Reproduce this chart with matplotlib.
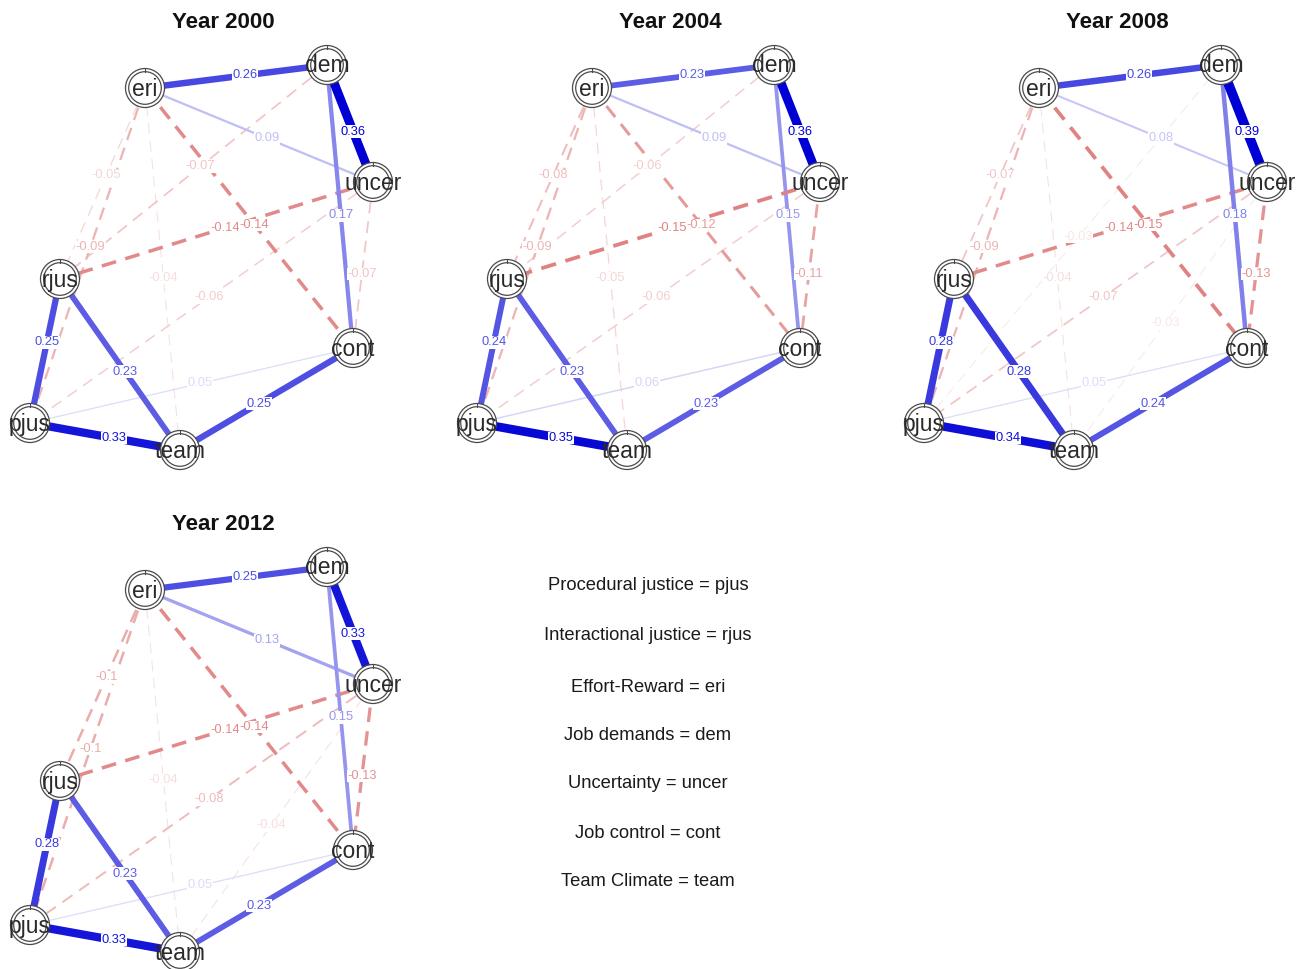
import matplotlib
matplotlib.use("Agg")
import matplotlib.pyplot as plt
from matplotlib.patches import Circle
import numpy as np

plt.rcParams["font.family"] = ["Liberation Sans", "DejaVu Sans"]
plt.rcParams["lines.scale_dashes"] = False

# ---- data -------------------------------------------------------------
nodes = ["pjus", "rjus", "eri", "dem", "uncer", "cont", "team"]
years = [2000, 2004, 2008, 2012]

edge_pairs = [
    ("eri", "dem"), ("dem", "uncer"), ("eri", "uncer"), ("dem", "cont"),
    ("eri", "rjus"), ("eri", "pjus"), ("dem", "rjus"), ("dem", "pjus"),
    ("uncer", "rjus"), ("eri", "cont"), ("eri", "team"), ("uncer", "pjus"),
    ("uncer", "team"), ("uncer", "cont"), ("rjus", "pjus"), ("rjus", "team"),
    ("pjus", "team"), ("team", "cont"), ("pjus", "cont"),
]

w2000 = [0.26, 0.36, 0.09, 0.17, -0.05, -0.09, -0.07, 0.0, -0.14, -0.14,
         -0.04, -0.06, 0.0, -0.07, 0.25, 0.23, 0.33, 0.25, 0.05]
w2004 = [0.23, 0.36, 0.09, 0.15, -0.08, -0.09, -0.06, 0.0, -0.15, -0.12,
         -0.05, -0.06, 0.0, -0.11, 0.24, 0.23, 0.35, 0.23, 0.06]
w2008 = [0.26, 0.39, 0.08, 0.18, -0.07, -0.09, 0.0, -0.03, -0.14, -0.15,
         -0.04, -0.07, -0.03, -0.13, 0.28, 0.28, 0.34, 0.24, 0.05]
w2012 = [0.25, 0.33, 0.13, 0.15, -0.1, -0.1, 0.0, 0.0, -0.14, -0.14,
         -0.04, -0.08, -0.04, -0.13, 0.28, 0.23, 0.33, 0.23, 0.05]
weights = [w2000, w2004, w2008, w2012]

legend_lines = [
    "Procedural justice = pjus",
    "Interactional justice = rjus",
    "Effort-Reward = eri",
    "Job demands = dem",
    "Uncertainty = uncer",
    "Job control = cont",
    "Team Climate = team",
]

# ---- layout (panel-local pixel units) ----------------------------------
layout = {
    "eri": (145, 88), "dem": (327, 65), "uncer": (373, 182),
    "cont": (353, 348), "team": (180, 450), "pjus": (30, 423),
    "rjus": (60, 279),
}
W, H = 1302, 969
PW, PH = 447, 502
panel_origin = [(0, 0), (447, 0), (894, 0), (0, 502)]

POS = np.array([0, 0, 213]) / 255
NEG = np.array([212, 80, 80]) / 255


def edge_color(w):
    if w > 0:
        a = min(1.0, abs(w) / 0.36)
        base = POS
    else:
        a = min(1.0, abs(w) / 0.21)
        base = NEG
    return tuple(1 - a * (1 - base))


fig = plt.figure(figsize=(W / 100, H / 100), dpi=100)
fig.patch.set_facecolor("white")
px = 0.72  # points per pixel at 100 dpi

for year, wts, (ox, oy) in zip(years, weights, panel_origin):
    ax = fig.add_axes([ox / W, 1 - (oy + PH) / H, PW / W, PH / H])
    ax.set_xlim(0, PW)
    ax.set_ylim(PH, 0)
    ax.axis("off")

    ax.text(223, 22, f"Year {year}", ha="center", va="center",
            fontsize=16, fontweight="bold", color="#111111")

    edges = [(a, b, w) for (a, b), w in zip(edge_pairs, wts) if w != 0]
    edges.sort(key=lambda e: abs(e[2]))
    for a, b, w in edges:
        (x1, y1), (x2, y2) = layout[a], layout[b]
        col = edge_color(w)
        lw_px = max(0.9, 25 * abs(w))
        if w < 0:
            on = 9 + 1.7 * lw_px
            off = 6 + 1.0 * lw_px
            ls = (0, (on * px, off * px))
        else:
            ls = "solid"
        ax.plot([x1, x2], [y1, y2], color=col, lw=lw_px * px, ls=ls,
                solid_capstyle="butt", dash_capstyle="butt", zorder=1,
                clip_on=False)

        # label sits a little past the midpoint, toward the later node
        if nodes.index(a) > nodes.index(b):
            (x1, y1), (x2, y2) = (x2, y2), (x1, y1)
        L = np.hypot(x2 - x1, y2 - y1)
        t = 0.5 + 9 / L
        lx, ly = x1 + t * (x2 - x1), y1 + t * (y2 - y1)
        ax.text(lx, ly, f"{w:g}", ha="center", va="center", fontsize=9.3,
                color=col, zorder=3,
                bbox=dict(facecolor="white", edgecolor="none", pad=0.25))

    for name in nodes:
        x, y = layout[name]
        ax.add_patch(Circle((x, y), 19.5, facecolor="white",
                            edgecolor="#4a4a4a", lw=0.9, zorder=4,
                            clip_on=False))
        ax.add_patch(Circle((x, y), 16.3, facecolor="none",
                            edgecolor="#4a4a4a", lw=0.9, zorder=4,
                            clip_on=False))
        ax.plot([x, x], [y - 19.5, y - 16.3], color="#4a4a4a", lw=0.8,
                zorder=4)
        ax.text(x, y + 1, name, ha="center", va="center", fontsize=16.5,
                color="#2a2a2a", zorder=5)

legend_y = [586, 635, 687, 735, 783, 833, 882]
for txt, y in zip(legend_lines, legend_y):
    fig.text(648 / W, 1 - y / H, txt, ha="center", va="center",
             fontsize=13.2, color="#1a1a1a")

fig.savefig("out.png", dpi=100, facecolor="white")
